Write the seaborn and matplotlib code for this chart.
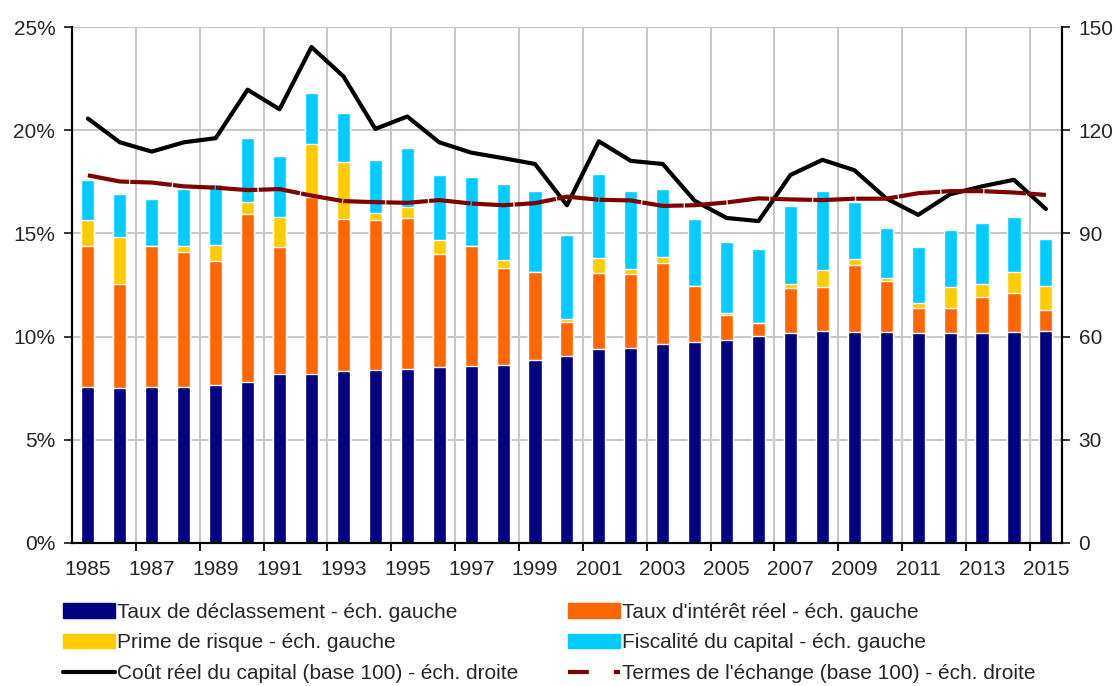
import matplotlib
matplotlib.use("Agg")
import matplotlib.pyplot as plt
import matplotlib.ticker as mticker
from matplotlib.lines import Line2D
from matplotlib.patches import Patch
import numpy as np
import pandas as pd
import seaborn as sns

# %%
years = list(range(1985, 2016))

# components in %, left axis
declassement = [7.57, 7.52, 7.57, 7.57, 7.67, 7.82, 8.20, 8.20, 8.35, 8.40, 8.45,
                8.53, 8.58, 8.63, 8.88, 9.07, 9.42, 9.45, 9.65, 9.75, 9.85, 10.03,
                10.18, 10.28, 10.23, 10.23, 10.18, 10.18, 10.18, 10.23, 10.28]
interet = [6.83, 5.03, 6.80, 6.53, 6.00, 8.13, 6.15, 8.55, 7.35, 7.25, 7.30,
           5.47, 5.82, 4.70, 4.25, 1.65, 3.66, 3.58, 3.92, 2.72, 1.20, 0.64,
           2.19, 2.14, 3.24, 2.47, 1.22, 1.22, 1.75, 1.89, 1.02]
prime = [1.27, 2.28, 0.00, 0.30, 0.78, 0.58, 1.45, 2.58, 2.77, 0.35, 0.53,
         0.68, 0.00, 0.40, 0.00, 0.15, 0.74, 0.25, 0.30, 0.00, 0.10, 0.00,
         0.18, 0.83, 0.30, 0.12, 0.23, 1.02, 0.62, 1.01, 1.17]
fiscalite = [1.91, 2.09, 2.30, 2.77, 2.95, 3.09, 2.95, 2.47, 2.36, 2.55, 2.85,
             3.15, 3.33, 3.67, 3.92, 4.06, 4.06, 3.77, 3.28, 3.23, 3.43, 3.58,
             3.78, 3.80, 2.76, 2.45, 2.72, 2.75, 2.95, 2.67, 2.26]

# base 100, right axis
cout_reel = [123.4, 116.5, 113.8, 116.5, 117.7, 131.8, 126.1, 144.2, 135.7, 120.4, 124.0,
             116.5, 113.5, 111.9, 110.2, 98.2, 116.8, 111.1, 110.2, 99.5, 94.5, 93.6,
             107.0, 111.4, 108.4, 100.2, 95.4, 101.4, 103.7, 105.6, 97.1]
termes_echange = [106.9, 105.1, 104.8, 103.7, 103.3, 102.6, 102.9, 101.0, 99.4, 99.1, 98.9,
                  99.7, 98.7, 98.2, 98.8, 100.7, 99.8, 99.6, 98.0, 98.2, 99.0, 100.2,
                  99.9, 99.7, 100.1, 100.1, 101.7, 102.3, 102.3, 101.9, 101.2]

labels = [
    "Taux de déclassement - éch. gauche",
    "Taux d'intérêt réel - éch. gauche",
    "Prime de risque - éch. gauche",
    "Fiscalité du capital - éch. gauche",
    "Coût réel du capital (base 100) - éch. droite",
    "Termes de l'échange (base 100) - éch. droite",
]
colors = ["#000080", "#FF6600", "#FFCC00", "#00CCFF"]

df = pd.DataFrame({
    "year": [str(y) for y in years],
    "declassement": declassement,
    "interet": interet,
    "prime": prime,
    "fiscalite": fiscalite,
})
parts = ["declassement", "interet", "prime", "fiscalite"]
cum = df[parts].cumsum(axis=1)

# %%
sns.set_style("ticks")
plt.rcParams["font.family"] = ["Liberation Sans", "DejaVu Sans"]
plt.rcParams["font.size"] = 15

fig = plt.figure(figsize=(11.16, 6.86), dpi=100)
ax = fig.add_axes([0.0645, 0.2085, 0.887, 0.752])

# stacked bars: draw tallest cumulative first
for part, color in reversed(list(zip(parts, colors))):
    sns.barplot(x=df["year"], y=cum[part], color=color, saturation=1,
                width=0.41, errorbar=None, ax=ax, zorder=2)

ax2 = ax.twinx()
x = np.arange(len(years))
sns.lineplot(x=x, y=cout_reel, color="black", lw=3, ax=ax2)
sns.lineplot(x=x, y=termes_echange, color="#800000", lw=3, ax=ax2)
ax2.lines[-1].set_linestyle((0, (10, 0.3)))

grid_col = "#c8c8c8"
ax.set_xlim(-0.5, len(years) - 0.5)
ax.set_ylim(0, 25)
ax2.set_ylim(0, 150)
ax.set(xlabel="", ylabel="")
ax2.set(xlabel="", ylabel="")

ax.yaxis.set_major_locator(mticker.MultipleLocator(5))
ax.yaxis.set_major_formatter(mticker.FuncFormatter(lambda v, p: f"{v:.0f}%"))
ax2.yaxis.set_major_locator(mticker.MultipleLocator(30))

ax.set_xticks(x[::2])
ax.set_xticklabels([str(y) for y in years[::2]])
ax.set_xticks(np.arange(1.5, len(years) - 1, 2), minor=True)
ax.tick_params(axis="x", which="major", length=0, pad=12)
ax.tick_params(axis="x", which="minor", length=6, width=1.3, color="black", direction="out")
ax.tick_params(axis="y", length=6, width=1.3, direction="out", pad=6)
ax2.tick_params(axis="y", length=6, width=1.3, direction="out", pad=6)

ax.set_axisbelow(True)
ax.grid(axis="y", which="major", color=grid_col, lw=1.5)
ax.grid(axis="x", which="minor", color=grid_col, lw=1.5)
ax.grid(axis="x", which="major", visible=False)

for a in (ax, ax2):
    a.spines["top"].set_visible(False)
    for s in ("left", "right", "bottom"):
        a.spines[s].set_linewidth(1.5)
        a.spines[s].set_color("black")
ax.axhline(25, color=grid_col, lw=1.5, zorder=0)

# legend in two columns
h = [Patch(color=c) for c in colors] + [
    Line2D([], [], color="black", lw=3),
    Line2D([], [], color="#800000", lw=3, ls=(0, (5, 6))),
]
leg_kw = dict(frameon=False, loc="upper left", handlelength=2.5, handletextpad=0.1,
              labelspacing=0.55, borderpad=0, borderaxespad=0, fontsize=15)
fig.legend([h[0], h[2], h[4]], [labels[0], labels[2], labels[4]],
           bbox_to_anchor=(63 / 1116, 1 - 603 / 686), **leg_kw)
fig.legend([h[1], h[3], h[5]], [labels[1], labels[3], labels[5]],
           bbox_to_anchor=(568 / 1116, 1 - 603 / 686), **leg_kw)

fig.savefig("out.png", dpi=100)
